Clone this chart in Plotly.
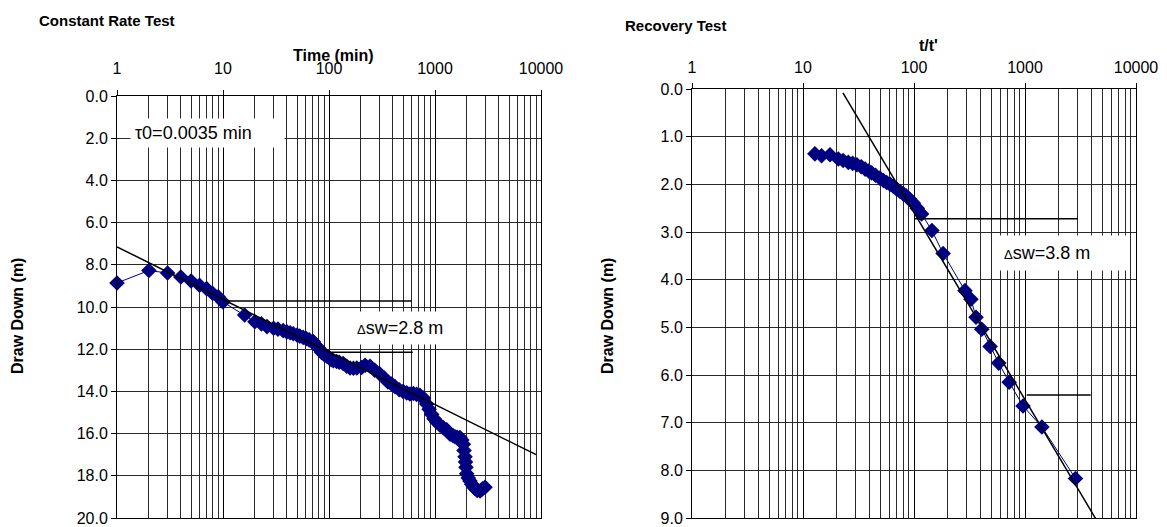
import plotly.graph_objects as go

# ---- Constant rate test: drawdown vs time ----
time_min = [1, 2, 3, 4, 5, 6, 7, 8, 9, 10, 16, 20, 23, 26, 30, 33, 37, 40, 43, 46,
            50, 53, 57, 61, 65, 71, 76, 80, 85, 90, 95, 100, 105, 110, 118, 125, 136,
            147, 158, 170, 183, 203, 219, 244, 270, 299, 330, 360, 390, 420, 460, 500,
            541, 580, 625, 670, 721, 776, 834, 880, 931, 980, 1040, 1115, 1200, 1290,
            1387, 1480, 1545, 1620, 1720, 1790, 1850, 1880, 1920, 1940, 1960, 1990,
            2060, 2140, 2220, 2300, 2385, 2500, 2660, 2800, 2965]
drawdown_crt = [8.86, 8.27, 8.39, 8.58, 8.77, 8.97, 9.13, 9.36, 9.52, 9.76, 10.38, 10.7,
                10.8, 10.93, 11.01, 11.05, 11.12, 11.18, 11.22, 11.27, 11.33, 11.38,
                11.44, 11.5, 11.56, 11.64, 11.85, 11.95, 12.15, 12.25, 12.32, 12.4,
                12.5, 12.55, 12.58, 12.62, 12.68, 12.81, 12.89, 12.9, 12.89, 12.87,
                12.76, 12.81, 13.0, 13.15, 13.35, 13.55, 13.65, 13.78, 13.92, 14.0,
                14.07, 14.12, 14.1, 14.14, 14.18, 14.31, 14.6, 14.85, 15.09, 15.3,
                15.45, 15.6, 15.72, 15.82, 16.03, 16.1, 16.15, 16.17, 16.19, 16.3,
                16.5, 16.8, 17.1, 17.35, 17.6, 17.9, 18.1, 18.25, 18.4, 18.5, 18.6,
                18.7, 18.72, 18.62, 18.54]

# straight-line (Cooper-Jacob) fit and the one-decade construction lines
crt_fit_t = [1, 9000]
crt_fit_s = [7.15, 17.0]
crt_upper_t = [10.4, 600]
crt_upper_s = [9.71, 9.71]
crt_lower_t = [98, 617]
crt_lower_s = [12.15, 12.15]

# ---- Recovery test: residual drawdown vs t/t' ----
t_ratio = [12.8, 14.7, 17.5, 20.8, 23, 25.6, 28, 30.6, 33.5, 36.3, 39, 41.5, 45, 49.3,
           53, 56.7, 61, 65, 70, 74.9, 80, 84.8, 91, 98.5, 107, 117, 145, 183, 288,
           326, 362, 408, 485, 580, 720, 960, 1420, 2850]
drawdown_rec = [1.36, 1.40, 1.38, 1.47, 1.50, 1.54, 1.56, 1.59, 1.63, 1.68, 1.72, 1.76,
                1.81, 1.87, 1.92, 1.96, 2.0, 2.04, 2.1, 2.15, 2.2, 2.24, 2.31, 2.39,
                2.5, 2.62, 2.97, 3.45, 4.23, 4.41, 4.79, 5.04, 5.40, 5.75, 6.15, 6.65,
                7.09, 8.17]

rec_fit_r = [22.9, 4500]
rec_fit_s = [0.08, 9.08]
rec_upper_r = [102, 3000]
rec_upper_s = [2.72, 2.72]
rec_lower_r = [1036, 3910]
rec_lower_s = [6.42, 6.42]

log_ticks = [1, 10, 100, 1000, 10000]
log_tick_text = ["1", "10", "100", "1000", "10000"]
crt_yticks = [0, 2, 4, 6, 8, 10, 12, 14, 16, 18, 20]
rec_yticks = [0, 1, 2, 3, 4, 5, 6, 7, 8, 9]

W, H = 1167, 527
FONT = "Liberation Sans, Arial, sans-serif"
GRID = "#2a2a2a"
NAVY = "#000080"
TICK_SIZE = 16


def px(x):
    return x / W


def py(y):
    return 1 - y / H


fig = go.Figure()

marker = dict(symbol="diamond", size=12, color=NAVY, line=dict(width=0))

fig.add_trace(go.Scatter(x=time_min, y=drawdown_crt, mode="lines+markers",
                         line=dict(color=NAVY, width=1), marker=marker, cliponaxis=False,
                         xaxis="x", yaxis="y", showlegend=False))
for xs, ys in [(crt_fit_t, crt_fit_s), (crt_upper_t, crt_upper_s), (crt_lower_t, crt_lower_s)]:
    fig.add_trace(go.Scatter(x=xs, y=ys, mode="lines", line=dict(color="black", width=1.5),
                             xaxis="x", yaxis="y", showlegend=False))

fig.add_trace(go.Scatter(x=t_ratio, y=drawdown_rec, mode="lines+markers",
                         line=dict(color=NAVY, width=1), marker=marker, cliponaxis=False,
                         xaxis="x2", yaxis="y2", showlegend=False))
for xs, ys in [(rec_fit_r, rec_fit_s), (rec_upper_r, rec_upper_s), (rec_lower_r, rec_lower_s)]:
    fig.add_trace(go.Scatter(x=xs, y=ys, mode="lines", line=dict(color="black", width=1.5),
                             xaxis="x2", yaxis="y2", showlegend=False))


def log_axis(domain, anchor, standoff):
    return dict(type="log", range=[0, 4], domain=domain, anchor=anchor, side="top",
                tickvals=log_ticks, ticktext=log_tick_text,
                ticks="outside", ticklen=5, tickcolor="black",
                ticklabelstandoff=standoff, automargin=False, ticklabeloverflow="allow",
                showline=True, linecolor="black", linewidth=1, mirror=True,
                showgrid=True, gridcolor="black", gridwidth=1,
                minor=dict(dtick="D1", showgrid=True, gridcolor=GRID, gridwidth=1,
                           ticks=""),
                tickfont=dict(family=FONT, size=TICK_SIZE, color="black"),
                zeroline=False)


def lin_axis(domain, anchor, rng, ticks):
    return dict(range=rng, domain=domain, anchor=anchor, automargin=False,
                tickvals=ticks, tickformat=".1f", ticklabeloverflow="allow",
                ticks="outside", ticklen=5, tickcolor="black",
                showline=True, linecolor="black", linewidth=1, mirror=True,
                showgrid=True, gridcolor=GRID, gridwidth=1, zeroline=False,
                tickfont=dict(family=FONT, size=TICK_SIZE, color="black"))


fig.update_layout(
    template="none",
    width=W, height=H, margin=dict(l=0, r=0, t=0, b=0, pad=0),
    paper_bgcolor="white", plot_bgcolor="white",
    xaxis=log_axis([px(117), px(541)], "y", 10),
    yaxis=lin_axis([py(518), py(96)], "x", [20, 0], crt_yticks),
    xaxis2=log_axis([px(692), px(1136)], "y2", 4),
    yaxis2=lin_axis([py(518), py(89)], "x2", [9, 0], rec_yticks),
)

ann = []
bold = dict(family=FONT, size=15, color="black")
title_font = dict(family=FONT, size=16, color="black")
ann.append(dict(text="<b>Constant Rate Test</b>", x=px(37), y=py(20), xanchor="left",
                yanchor="middle", font=bold))
ann.append(dict(text="<b>Recovery Test</b>", x=px(623), y=py(25), xanchor="left",
                yanchor="middle", font=bold))
ann.append(dict(text="<b>Time (min)</b>", x=px(333), y=py(55), xanchor="center",
                yanchor="middle", font=title_font))
ann.append(dict(text="<b>t/t'</b>", x=px(928), y=py(45), xanchor="center",
                yanchor="middle", font=title_font))
ann.append(dict(text="<b>Draw Down (m)</b>", x=px(17), y=py(316), textangle=-90,
                xanchor="center", yanchor="middle", font=title_font))
ann.append(dict(text="<b>Draw Down (m)</b>", x=px(607), y=py(316), textangle=-90,
                xanchor="center", yanchor="middle", font=title_font))

label_font = dict(family=FONT, size=18, color="black")
ann.append(dict(text="τ0=0.0035 min", x=px(130), y=py(133), xanchor="left", align="left",
                width=145, yanchor="middle", font=label_font, bgcolor="white", borderpad=4))
ann.append(dict(text="<span style='font-size:13px'>Δ</span>sw=2.8 m", x=px(350), y=py(328),
                xanchor="left", align="left", width=96, yanchor="middle", font=label_font,
                bgcolor="white", borderpad=6))
ann.append(dict(text="<span style='font-size:13px'>Δ</span>sw=3.8 m", x=px(996), y=py(253),
                xanchor="left", align="left", width=115, yanchor="middle", font=label_font,
                bgcolor="white", borderpad=7))
for a in ann:
    a.update(xref="paper", yref="paper", showarrow=False)
fig.update_layout(annotations=ann)

fig.write_html("out.html")
